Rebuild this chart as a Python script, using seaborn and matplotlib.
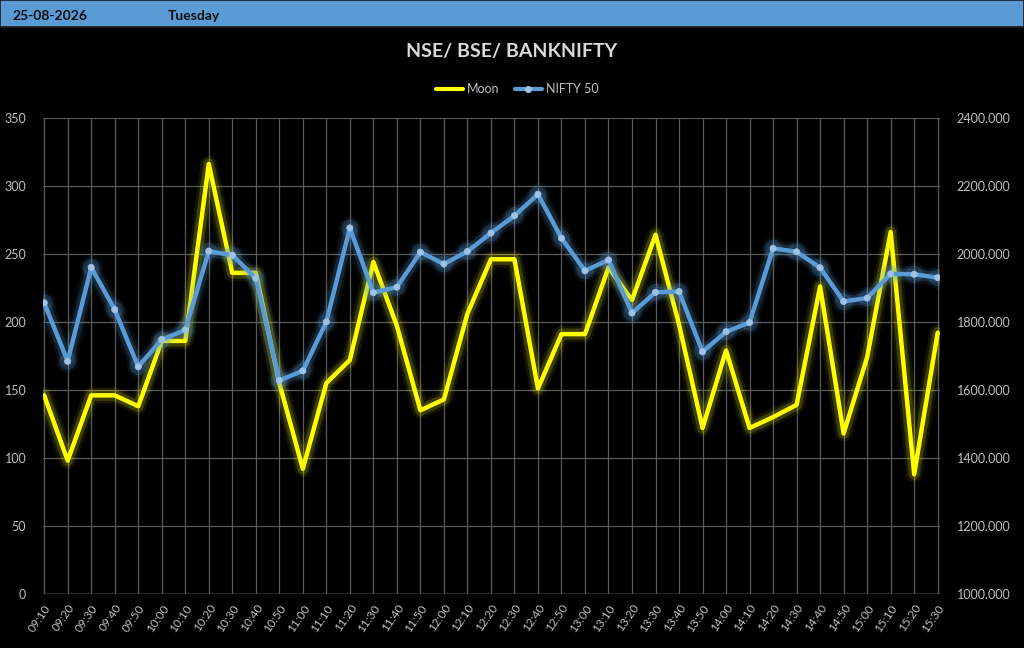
import matplotlib
matplotlib.use("Agg")
import matplotlib.pyplot as plt
import matplotlib.patheffects as pe
from matplotlib.lines import Line2D
from matplotlib.patches import Rectangle
import seaborn as sns

# data
times = ['09:10', '09:20', '09:30', '09:40', '09:50', '10:00', '10:10', '10:20', '10:30', '10:40',
         '10:50', '11:00', '11:10', '11:20', '11:30', '11:40', '11:50', '12:00', '12:10', '12:20',
         '12:30', '12:40', '12:50', '13:00', '13:10', '13:20', '13:30', '13:40', '13:50', '14:00',
         '14:10', '14:20', '14:30', '14:40', '14:50', '15:00', '15:10', '15:20', '15:30']
moon = [146, 98, 146, 146, 138, 186, 186, 316, 236, 236,
        155, 92, 155, 172, 244, 197, 135, 143, 206, 246,
        246, 151, 191, 191, 240, 216, 264, 198, 122, 179,
        122, 130, 139, 226, 118, 174, 266, 88, 192]
nifty = [1856, 1684, 1960, 1836, 1668, 1748, 1776, 2008, 1996, 1928,
         1628, 1656, 1800, 2076, 1886, 1902, 2005, 1970, 2007, 2061,
         2112, 2175, 2046, 1950, 1982, 1826, 1887, 1889, 1712, 1771,
         1798, 2016, 2006, 1959, 1860, 1870, 1941, 1940, 1930]

date_txt = '25-08-2026'
day_txt = 'Tuesday'
title = 'NSE/ BSE/ BANKNIFTY'

sns.set_style('dark')
plt.rcParams['font.family'] = ['Lato', 'DejaVu Sans']

yellow = '#ffff00'
blue = '#5b9bd5'
grid_c = '#5a5a5a'
txt_c = '#bfbfbf'

fig = plt.figure(figsize=(10.24, 6.48), dpi=100, facecolor='black')
ax = fig.add_axes([0.042, 0.0833, 0.876, 0.735], facecolor='black')
ax2 = ax.twinx()

pos = list(range(len(times)))

glow_y = [pe.Stroke(linewidth=12, foreground=yellow, alpha=0.08),
          pe.Stroke(linewidth=8, foreground=yellow, alpha=0.18),
          pe.Normal()]
glow_b = [pe.Stroke(linewidth=12, foreground=blue, alpha=0.08),
          pe.Stroke(linewidth=8, foreground=blue, alpha=0.18),
          pe.Normal()]

sns.lineplot(x=pos, y=moon, ax=ax, color=yellow, lw=3.2)
ax.lines[-1].set_path_effects(glow_y)
sns.lineplot(x=pos, y=nifty, ax=ax2, color=blue, lw=3.2, marker='o', markersize=4.5,
             markerfacecolor='#9dc3e6', markeredgecolor='#9dc3e6', markeredgewidth=0.5)
ax2.lines[-1].set_path_effects(glow_b)

ax.set_xlim(-0.05, len(times) - 0.9)
ax.set_ylim(0, 350)
ax.set_yticks(range(0, 351, 50))
ax2.set_ylim(1000, 2400)
ax2.set_yticks(range(1000, 2401, 200))
ax2.set_yticklabels([f'{v:.3f}' for v in range(1000, 2401, 200)])

ax.set_xticks(pos)
ax.set_xticklabels(times, rotation=55, ha='right', va='top', rotation_mode='anchor')
ax.grid(True, axis='both', color=grid_c, lw=0.9)
ax.set_axisbelow(True)
ax2.grid(False)

for a in (ax, ax2):
    for s in a.spines.values():
        s.set_visible(False)
    a.tick_params(length=0, colors=txt_c, labelsize=9)
ax.tick_params(axis='x', pad=6, labelsize=8.5)
ax.tick_params(axis='y', pad=12)
ax2.tick_params(axis='y', pad=12)
ax.axhline(0, color='#8c8c8c', lw=1)

# header bar
fig.patches.append(Rectangle((0, 1 - 27 / 648), 1, 27 / 648, transform=fig.transFigure,
                             facecolor='#5b9bd5', edgecolor='#1a1a1a', lw=1.2, zorder=0))
fig.text(12 / 1024, 1 - 16 / 648, date_txt, color='#0d0d0d', fontsize=10, fontweight='bold', va='center')
fig.text(168 / 1024, 1 - 16 / 648, day_txt, color='#0d0d0d', fontsize=10, fontweight='bold', va='center')

fig.text(0.5, 1 - 52 / 648, title, color='#d9d9d9', fontsize=14, fontweight='bold', ha='center', va='center')

handles = [Line2D([], [], color=yellow, lw=3),
           Line2D([], [], color=blue, lw=3, marker='o', markersize=4,
                  markerfacecolor='#9dc3e6', markeredgecolor='#9dc3e6')]
leg = fig.legend(handles, ['Moon', 'NIFTY 50'], loc='center', bbox_to_anchor=(0.505, 1 - 89 / 648),
                 ncol=2, frameon=False, fontsize=9, handlelength=2.2, handletextpad=0.3,
                 columnspacing=1.2)
for t in leg.get_texts():
    t.set_color(txt_c)

fig.savefig('out.png', dpi=100, facecolor='black')
